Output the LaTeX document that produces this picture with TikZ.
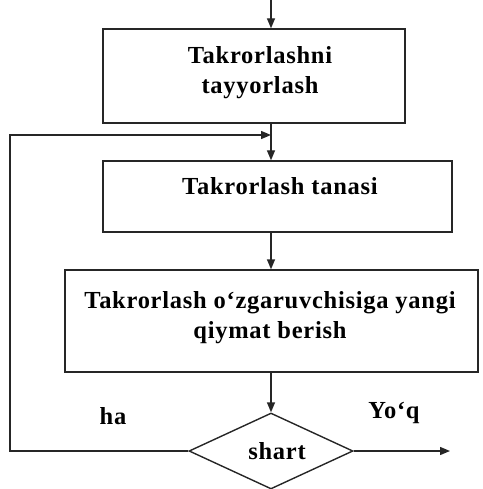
\documentclass[tikz,border=0pt]{standalone}
\usepackage{fontspec}
\setmainfont{Liberation Serif}[LetterSpace=3]
\usetikzlibrary{arrows.meta,shapes.geometric}
\begin{document}
\begin{tikzpicture}[x=1pt,y=-1pt,
  line/.style={line width=1.4pt,draw=black!85},
  arr/.style={line,-{Triangle[length=10pt,width=8pt]}},
  boxnode/.style={line,rectangle,inner sep=0pt},
  txt/.style={font=\fontsize{24.5}{30}\selectfont\bfseries,align=center,inner sep=0pt}]
\useasboundingbox (0,0) rectangle (482,489);
\coordinate (top) at (271,0);
\node[boxnode,minimum width=302pt,minimum height=94pt] (b1) at (254,76) {};
\node[txt] (t1) at (260,73) {Takrorlashni\\tayyorlash};
\node[boxnode,minimum width=349pt,minimum height=71pt] (b2) at (277.5,196.5) {};
\node[txt] (t2) at (280,186) {Takrorlash tanasi};
\node[boxnode,minimum width=413pt,minimum height=102pt] (b3) at (271.5,321) {};
\node[txt] (t3) at (270,318) {Takrorlash o‘zgaruvchisiga yangi\\qiymat berish};
\node[line,diamond,minimum width=164pt,minimum height=76pt,inner sep=0pt,txt] (d) at (271,451) {};
\node[txt] (t4) at (277,451) {shart};
\node[txt] (ha) at (113,416) {ha};
\node[txt] (yoq) at (394,413) {Yo‘q};
\coordinate (merge) at (271,135);
\coordinate (exit) at (450,451);
\coordinate (lc) at (10,451);
\draw[arr] (top) -- (top |- b1.north);
\draw[arr] (top |- b1.south) -- (top |- b2.north);
\draw[arr] (top |- b2.south) -- (top |- b3.north);
\draw[arr] (top |- b3.south) -- (d.north);
\draw[arr] (d.west) -- (lc) |- (merge);
\draw[arr] (d.east) -- (exit);
\end{tikzpicture}
\end{document}
